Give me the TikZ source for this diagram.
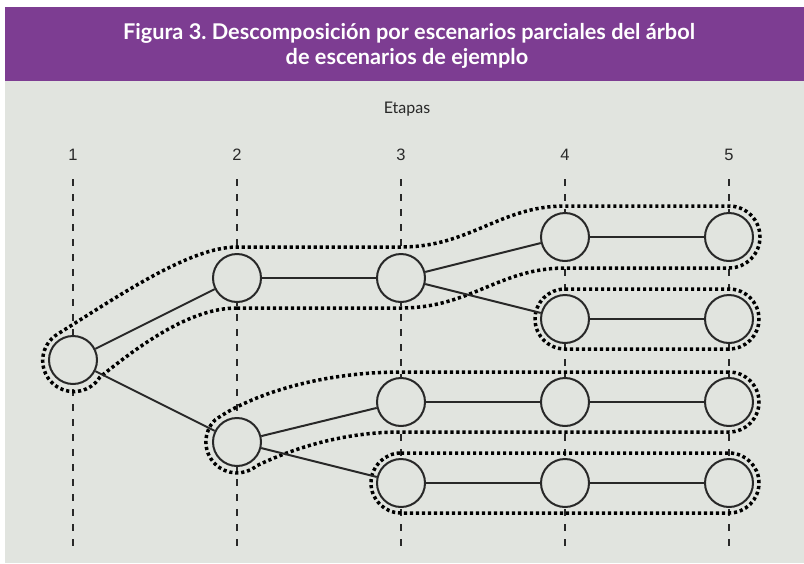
\documentclass[tikz,border=0pt]{standalone}
\usepackage{fontspec}
\newfontfamily\latofont{Lato}
\newfontfamily\numfont{Liberation Sans}
\definecolor{hdr}{RGB}{125,61,146}
\definecolor{bgc}{RGB}{225,228,223}
\definecolor{ink}{RGB}{40,40,40}
\tikzset{
  stnode/.style={circle, draw=ink, line width=2pt, fill=bgc, minimum size=48pt, inner sep=0pt},
  conn/.style={draw=ink, line width=2pt},
  stageline/.style={draw=ink, line width=2pt, dash pattern=on 7pt off 8pt},
  envelope/.style={draw=black, line width=3.5pt, dash pattern=on 3.2pt off 2.8pt},
  titletext/.style={text=white, font=\latofont\bfseries\fontsize{21.7}{25}\selectfont\frenchspacing, anchor=base, inner sep=0pt},
  stagenum/.style={text=ink, font=\numfont\fontsize{16.5}{19}\selectfont, anchor=base, inner sep=0pt}
}
\begin{document}
\begin{tikzpicture}[x=1pt,y=1pt]
\useasboundingbox (0,0) rectangle (804,-563);
\fill[white] (0,0) rectangle (804,-563);
\fill[hdr] (5,-7) rectangle (804,-81);
\fill[bgc] (5,-81) rectangle (804,-563);

% title
\node[titletext] (title1) at (409,-39) {Figura 3. Descomposición por escenarios parciales del árbol};
\node[titletext] (title2) at (407,-64) {de escenarios de ejemplo};
\node[text=ink, font=\latofont\fontsize{16}{19}\selectfont, anchor=base, inner sep=0pt] (etapas) at (407,-113) {Etapas};

% stage numbers and lines
\foreach \i/\x in {1/73,2/237,3/401,4/565,5/729}{
  \node[stagenum] (s\i) at (\x,-160) {\i};
  \coordinate (t\i) at (\x,-179);
  \coordinate (b\i) at (\x,-551);
  \draw[stageline] (t\i) -- (b\i);
}

% envelopes
\draw[envelope] (237,-308) .. controls (190,-308) and (140,-345) .. (100,-377)
  arc[start angle=-32, end angle=-240, radius=31]
  .. controls (120,-295) and (190,-247) .. (237,-247) -- (401,-247)
  .. controls (470,-247) and (500,-206) .. (565,-206) -- (729,-206)
  arc[start angle=90, end angle=-90, radius=31] -- (565,-268)
  .. controls (500,-268) and (470,-308) .. (401,-308) -- cycle;
\draw[envelope] (565,-289) -- (729,-289) arc[start angle=90, end angle=-90, radius=30]
  -- (565,-349) arc[start angle=270, end angle=90, radius=30] -- cycle;
\draw[envelope] (729,-372) -- (401,-372)
  .. controls (320,-372) and (250,-395) .. (215,-420)
  arc[start angle=135, end angle=310, radius=31]
  .. controls (300,-445) and (350,-432) .. (401,-432) -- (729,-432)
  arc[start angle=-90, end angle=90, radius=30] -- cycle;
\draw[envelope] (401,-453) -- (729,-453) arc[start angle=90, end angle=-90, radius=30]
  -- (401,-513) arc[start angle=270, end angle=90, radius=30] -- cycle;

% nodes
\node[stnode] (n1) at (73,-360) {};
\node[stnode] (n2a) at (237,-278) {};
\node[stnode] (n2b) at (237,-442) {};
\node[stnode] (n3a) at (401,-278) {};
\node[stnode] (n3b) at (401,-402) {};
\node[stnode] (n3c) at (401,-483) {};
\node[stnode] (n4a) at (565,-237) {};
\node[stnode] (n4b) at (565,-319) {};
\node[stnode] (n4c) at (565,-402) {};
\node[stnode] (n4d) at (565,-483) {};
\node[stnode] (n5a) at (729,-237) {};
\node[stnode] (n5b) at (729,-319) {};
\node[stnode] (n5c) at (729,-402) {};
\node[stnode] (n5d) at (729,-483) {};

% connectors
\draw[conn] (n1) -- (n2a);
\draw[conn] (n1) -- (n2b);
\draw[conn] (n2a) -- (n3a);
\draw[conn] (n3a) -- (n4a);
\draw[conn] (n3a) -- (n4b);
\draw[conn] (n4a) -- (n5a);
\draw[conn] (n4b) -- (n5b);
\draw[conn] (n2b) -- (n3b);
\draw[conn] (n2b) -- (n3c);
\draw[conn] (n3b) -- (n4c);
\draw[conn] (n4c) -- (n5c);
\draw[conn] (n3c) -- (n4d);
\draw[conn] (n4d) -- (n5d);
\end{tikzpicture}
\end{document}
